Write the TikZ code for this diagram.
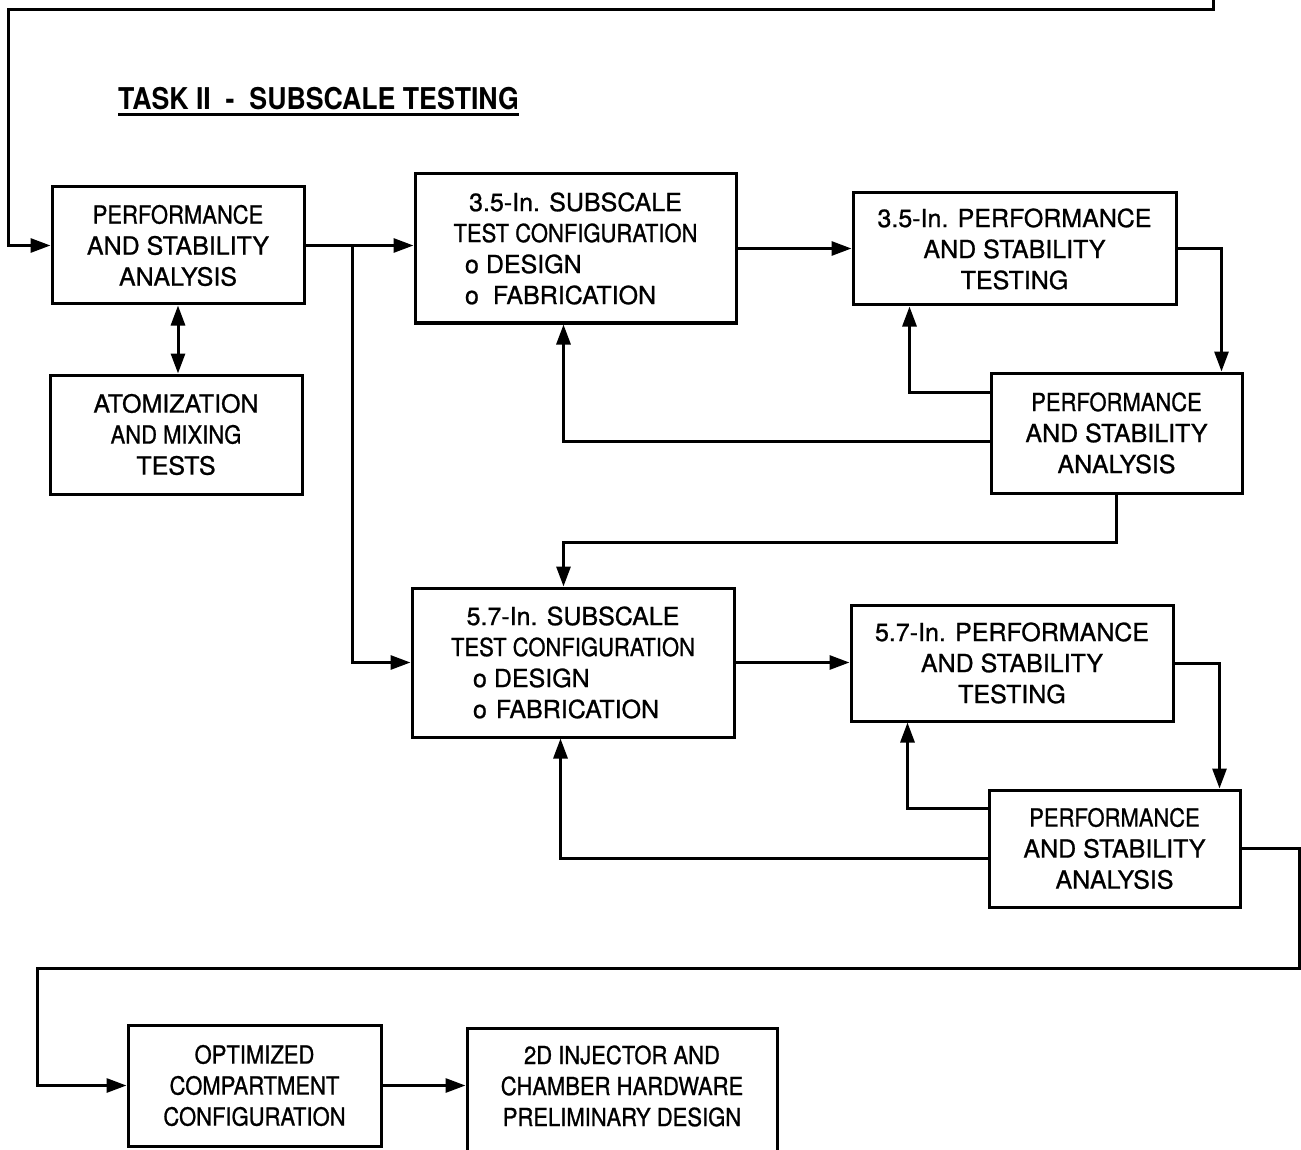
\documentclass[tikz,border=0pt]{standalone}
\usepackage{fontspec}
\setmainfont[FakeBold=0.9]{TeX Gyre Heros}
\newfontfamily\cond[FakeStretch=0.88,FakeBold=0.9]{TeX Gyre Heros}
\newfontfamily\condbold[FakeStretch=0.89]{TeX Gyre Heros Bold}
\usetikzlibrary{arrows.meta,calc}
\tikzset{
  box/.style={draw, line width=3pt, inner sep=0pt, align=center,
              font=\fontsize{25}{31}\selectfont},
  lbl/.style={inner sep=0pt, align=center, font=\fontsize{25}{31}\selectfont},
  arr/.style={line width=3pt, -{Triangle[length=20pt,width=14pt]}},
  arrtwo/.style={line width=3pt, {Triangle[length=20pt,width=14pt]}-{Triangle[length=20pt,width=14pt]}},
}
\newcommand{\bul}[2]{\makebox[#1][l]{o\hspace{7pt}#2}}
\begin{document}
\begin{tikzpicture}[x=1pt,y=-1pt]
\useasboundingbox (0,0) rectangle (1301,1150);

% title
\node[inner sep=0pt, anchor=base west, font=\fontsize{30}{34}\selectfont\condbold] (title) at (118,110)
  {TASK II\ \ -\ \ SUBSCALE TESTING};
\draw[line width=3pt] ([yshift=-4.5pt]title.base west) -- ([yshift=-4.5pt]title.base east);

% boxes
\node[box, minimum width=252, minimum height=117] (A) at (178,245.5)
  {{\cond PERFORMANCE}\\AND STABILITY\\ANALYSIS};
\node[box, minimum width=252, minimum height=119] (B) at (176,434.5)
  {ATOMIZATION\\{\cond AND MIXING}\\TESTS};
\node[box, minimum width=321, minimum height=149] (C) at (575.5,248.5)
  {3.5-In. SUBSCALE\\{\cond TEST CONFIGURATION}\\\bul{221pt}{DESIGN}\\\bul{221pt}{\hspace{7pt}FABRICATION}};
\node[box, minimum width=323, minimum height=112] (D) at (1014.5,249)
  {3.5-In. PERFORMANCE\\AND STABILITY\\TESTING};
\node[box, minimum width=251, minimum height=120] (F) at (1116.5,433)
  {{\cond PERFORMANCE}\\AND STABILITY\\ANALYSIS};
\node[box, minimum width=322, minimum height=149] (E) at (573,662.5)
  {5.7-In. SUBSCALE\\{\cond TEST CONFIGURATION}\\\bul{200pt}{DESIGN}\\\bul{200pt}{\hspace{2pt}FABRICATION}};
\node[box, minimum width=322, minimum height=116] (G) at (1012,663)
  {5.7-In. PERFORMANCE\\AND STABILITY\\TESTING};
\node[box, minimum width=251, minimum height=117] (H) at (1114.5,848.5)
  {{\cond PERFORMANCE}\\AND STABILITY\\ANALYSIS};
\node[box, minimum width=253, minimum height=121, font=\fontsize{25}{31}\selectfont\cond] (I) at (254.5,1085.5)
  {OPTIMIZED\\COMPARTMENT\\CONFIGURATION};
\node[box, minimum width=310, minimum height=150, anchor=north] (J) at (622,1027) {};
\node[lbl, font=\fontsize{25}{31}\selectfont\cond] (Jt) at (622,1086)
  {2D INJECTOR AND\\CHAMBER HARDWARE\\PRELIMINARY DESIGN};

% connectors
\coordinate (t0) at (1213,0);
\coordinate (t1) at (8,10);
\draw[arr] (t0) |- (t1) |- (A.west);

\draw[arr] (A.east) -- (A.east -| C.west);
\coordinate (br) at (352,245.5);
\draw[arr] (br) |- (E.west);
\draw[arrtwo] (A.south) -- (A.south |- B.north);

\draw[arr] (C.east) -- (C.east -| D.west);
\draw[arr] (D.east) -| ([xshift=-22pt]F.north east);
\draw[arr] ([yshift=-21pt]F.north west) -| ([xshift=58pt]D.south west);
\draw[arr] ([yshift=-70pt]F.north west) -| ([xshift=150pt]C.south west);
\draw[arr] (F.south) -- ++(0,48) -| ([xshift=153pt]E.north west);

\draw[arr] (E.east) -- (E.east -| G.west);
\draw[arr] (G.east) -| ([xshift=-22pt]H.north east);
\draw[arr] ([yshift=-20pt]H.north west) -| ([xshift=58pt]G.south west);
\draw[arr] ([yshift=-70pt]H.north west) -| ([xshift=150pt]E.south west);

\coordinate (r1) at (1299,968);
\coordinate (l1) at (37,968);
\draw[arr] (H.east) -| (r1) -- (l1) |- (I.west);
\draw[arr] (I.east) -- (I.east -| J.west);
\end{tikzpicture}
\end{document}
